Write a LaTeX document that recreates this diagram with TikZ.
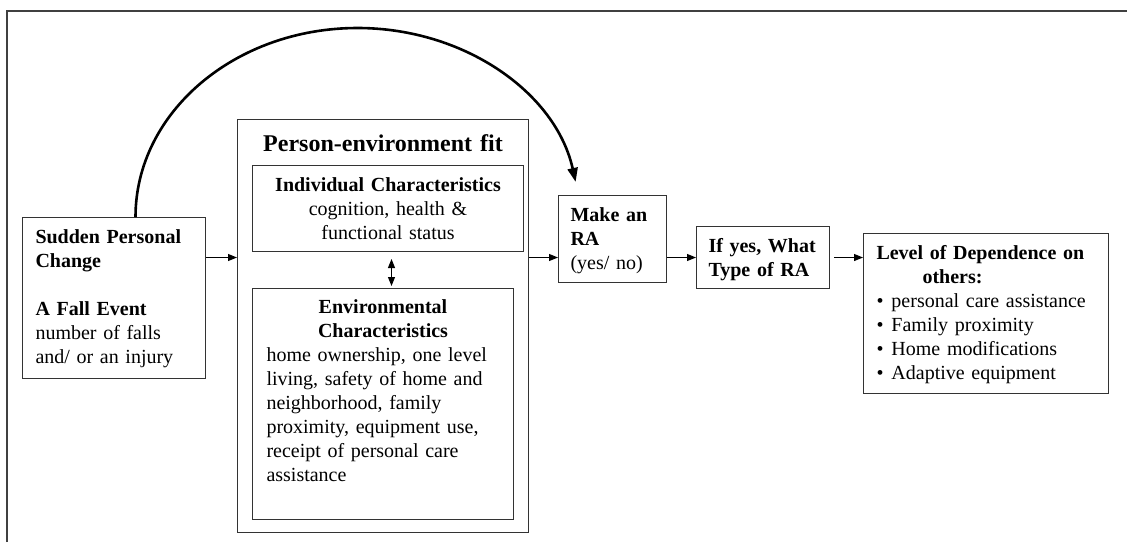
\documentclass[tikz,border=0pt]{standalone}
\usepackage{fontspec}
\setmainfont{Liberation Serif}
\usetikzlibrary{arrows.meta}
\setlength{\parindent}{0pt}

\begin{document}
\begin{tikzpicture}[x=0.5pt, y=-0.5pt, font=\fontsize{10}{12}\selectfont,
  >={Triangle[length=4.5pt, width=3.5pt]},
  box/.style={draw=black!80, line width=0.5pt, anchor=north west, inner xsep=6.5pt, inner ysep=0pt, text height=13pt},
  lbox/.style={box, align=left},
  cbox/.style={box, align=center},
  flow/.style={->, line width=0.5pt}]
  \useasboundingbox (0,0) rectangle (1127,542);
  % frame
  \draw[black!75, line width=0.7pt] (7,542) -- (7,11) -- (1127,11);
  % trigger
  \node[lbox, text width=78.5pt, text depth=67.5pt] (sudden) at (22,217)
      {\textbf{Sudden Personal}\\\textbf{Change}\\[12pt]\textbf{A Fall Event}\\number of falls\\and/ or an injury};
  % person-environment fit
  \node[cbox, text width=137.5pt, inner xsep=4pt, text height=16pt, text depth=190.5pt,
      font=\fontsize{12}{14}\selectfont\bfseries] (pef) at (237,119) {Person-environment fit};
  \node[cbox, text width=122.5pt, text depth=30pt] (indiv) at (252,165)
      {\textbf{Individual Characteristics}\\cognition, health \&\\functional status};
  \node[box, text width=116.5pt, inner xsep=7pt, text height=12.5pt, text depth=103pt] (env) at (252,288)
      {{\centering\bfseries Environmental\\Characteristics\par}\raggedright
       home ownership, one level\\living, safety of home and\\neighborhood, family\\proximity, equipment use,\\receipt of personal care\\assistance};
  % outcomes
  \node[lbox, text width=42pt, inner xsep=6pt, text depth=30.5pt] (ra) at (558,195)
      {\textbf{Make an}\\\textbf{RA}\\(yes/ no)};
  \node[lbox, text width=54.5pt, inner xsep=6pt, text depth=18pt] (type) at (696,226)
      {\textbf{If yes, What}\\\textbf{Type of RA}};
  \node[lbox, text width=109.5pt, text depth=67pt] (level) at (863,233)
      {\textbf{Level of Dependence on}\\\hspace*{23pt}\textbf{others:}\\
       \makebox[7.5pt][l]{\textbullet}personal care assistance\\
       \makebox[7.5pt][l]{\textbullet}Family proximity\\
       \makebox[7.5pt][l]{\textbullet}Home modifications\\
       \makebox[7.5pt][l]{\textbullet}Adaptive equipment};
  % flow
  \draw[flow] (sudden.east |- type.west) -- (pef.west |- type.west);
  \draw[flow] (pef.east |- type.west) -- (ra.west |- type.west);
  \draw[flow] (ra.east |- type.west) -- (type.west);
  \draw[flow, shorten <=2pt] (type.east) -- (level.west |- type.east);
  \draw[<->, line width=0.5pt, shorten <=3.5pt, shorten >=1pt] ([xshift=1.75pt]indiv.south) -- ([xshift=1.75pt]indiv.south |- env.north);
  % direct path
  \draw[line width=1.3pt, -{Triangle[length=7pt, width=5pt]}] ([xshift=10.75pt]sudden.north)
      arc[start angle=180, end angle=10.7, x radius=111pt, y radius=94.5pt];
\end{tikzpicture}
\end{document}
